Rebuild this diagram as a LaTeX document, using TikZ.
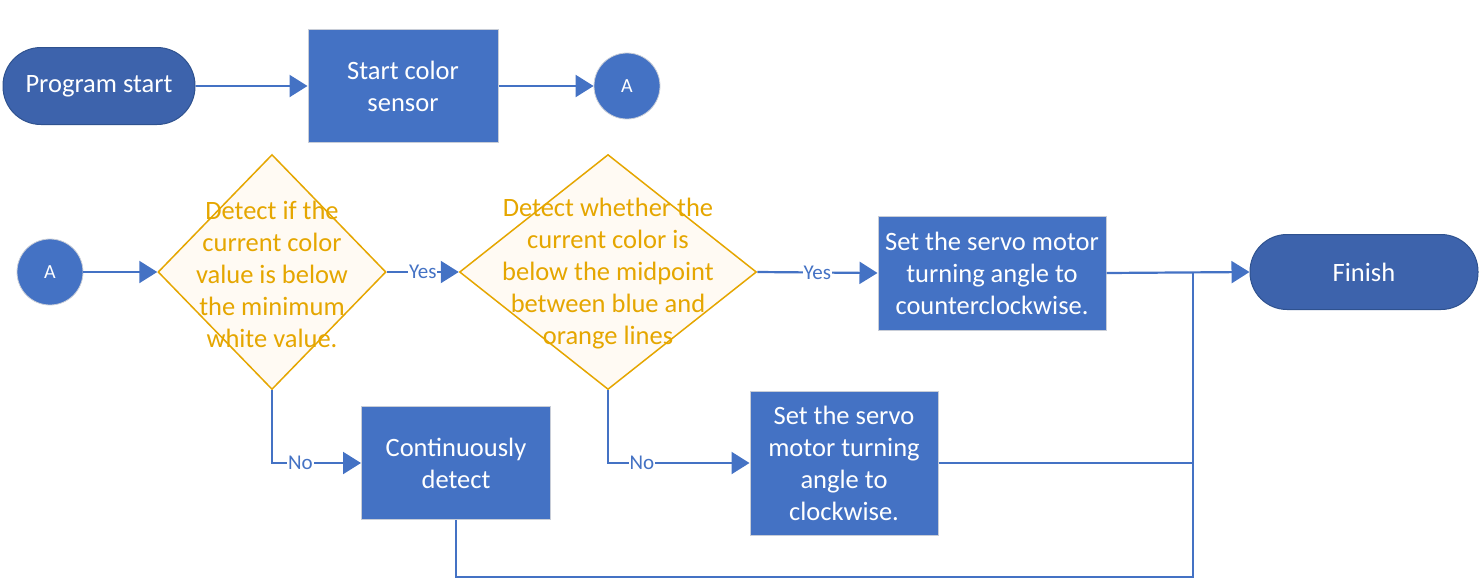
\documentclass[tikz,border=0pt]{standalone}
\usepackage{fontspec}
\setmainfont{Carlito}
\usetikzlibrary{arrows.meta,shapes.geometric}
\definecolor{boxblue}{RGB}{68,114,196}
\definecolor{termblue}{RGB}{61,99,172}
\definecolor{termedge}{RGB}{47,82,143}
\definecolor{boxedge}{RGB}{200,205,215}
\definecolor{decor}{RGB}{229,166,0}
\definecolor{decfill}{RGB}{255,250,243}
\tikzset{
  x=1pt, y=-1pt,
  bigfont/.style={font=\fontsize{26.5}{32}\selectfont},
  procbox/.style={draw=boxedge, line width=1pt, fill=boxblue, text=white, align=center, bigfont, inner sep=0pt},
  termbox/.style={draw=termedge, line width=1pt, fill=termblue, text=white, align=center, bigfont, inner sep=0pt},
  conn/.style={circle, draw=boxedge, line width=0.8pt, fill=boxblue, text=white, minimum size=66pt, inner sep=0pt, font=\fontsize{20}{22}\selectfont},
  decbox/.style={diamond, draw=decor, line width=1.5pt, fill=decfill, inner sep=0pt},
  dectext/.style={text=decor, align=center, bigfont, inner sep=0pt},
  flow/.style={draw=boxblue, line width=2.2pt},
  arr/.style={flow, -{Triangle[length=18pt,width=22pt]}},
  elabel/.style={fill=white, text=boxblue, inner sep=1pt, font=\fontsize{21}{23}\selectfont},
}
\begin{document}
\begin{tikzpicture}
\useasboundingbox (0,0) rectangle (1480,582);
% nodes
\node[termbox, minimum width=192pt, minimum height=77pt, rounded corners=38pt] (ps) at (99,86) {Program start};
\node[procbox, minimum width=190pt, minimum height=113pt] (scs) at (403,86) {Start color\\sensor};
\node[conn] (a1) at (627,86) {A};
\node[conn] (a2) at (50,272) {A};
\node[decbox, minimum width=228pt, minimum height=235pt] (d1) at (272,272) {};
\node[dectext] (d1t) at (272,274) {Detect if the\\current color\\value is below\\the minimum\\white value.};
\node[decbox, minimum width=297pt, minimum height=235pt] (d2) at (608,272) {};
\node[dectext] (d2t) at (608,274) {Detect whether the\\current color is\\below the midpoint\\between blue and\\orange lines};
\node[procbox, minimum width=228pt, minimum height=114pt] (r3) at (992,273) {Set the servo motor\\turning angle to\\counterclockwise.};
\node[termbox, minimum width=228pt, minimum height=75pt, rounded corners=37pt] (fin) at (1364,272) {Finish};
\node[procbox, minimum width=189pt, minimum height=113pt] (cd) at (456,463) {Continuously\\detect};
\node[procbox, minimum width=188pt, minimum height=144pt] (r4) at (844,463) {Set the servo\\motor turning\\angle to\\clockwise.};
\coordinate (j) at (1193,272);
\coordinate (bot) at (1193,577);
% connectors
\draw[arr] (ps) -- (scs);
\draw[arr] (scs) -- (a1);
\draw[arr] (a2) -- (d1.west);
\draw[arr] (d1.east) -- node[elabel, pos=0.5] {Yes} (d2.west);
\draw[arr] (d2.east) -- node[elabel, pos=0.5] {Yes} (r3.west);
\draw[arr] (r3.east) -- (fin.west);
\draw[arr] (d1.south) |- node[elabel, pos=0.66] {No} (cd.west);
\draw[arr] (d2.south) |- node[elabel, pos=0.62] {No} (r4.west);
\draw[flow] (r4.east) -- (r4.east -| j);
\draw[flow] (cd.south) |- (bot) -- (j);
\end{tikzpicture}
\end{document}
